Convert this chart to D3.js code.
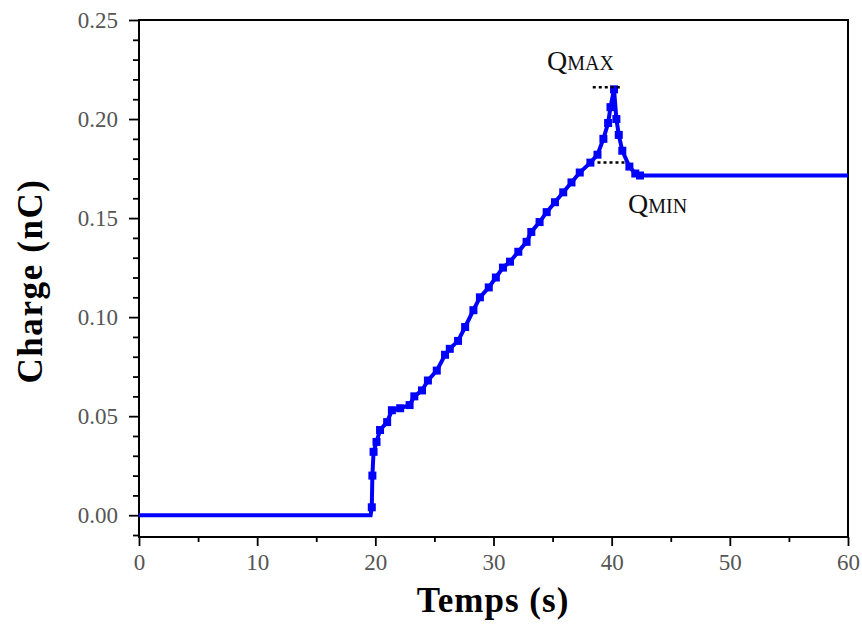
<!DOCTYPE html>
<html>
<head>
<meta charset="utf-8">
<script src="https://cdn.jsdelivr.net/npm/d3@7"></script>
<style>
  body { margin:0; background:#fff; }
  text { font-family: "Liberation Serif", "DejaVu Serif", serif; }
</style>
</head>
<body>
<div id="chart"></div>
<script>
// data
var times   = [0, 19.6, 19.7, 19.75, 19.85, 20.1, 20.4, 21.0, 21.4, 22.1, 22.9, 23.3, 23.95, 24.45, 25.2, 25.9, 26.3, 27.0, 27.6, 28.3, 28.85, 29.6, 30.2, 30.8, 31.4, 32.1, 32.8, 33.2, 33.9, 34.5, 35.2, 35.9, 36.6, 37.3, 38.2, 38.8, 39.3, 39.7, 39.9, 40.2, 40.4, 40.6, 40.9, 41.5, 42.0, 42.4, 60];
var charges = [0, 0, 0.004, 0.020, 0.032, 0.037, 0.043, 0.047, 0.053, 0.054, 0.0556, 0.060, 0.063, 0.068, 0.073, 0.081, 0.084, 0.088, 0.095, 0.1035, 0.110, 0.115, 0.120, 0.125, 0.128, 0.133, 0.138, 0.143, 0.148, 0.153, 0.158, 0.163, 0.168, 0.173, 0.178, 0.182, 0.190, 0.198, 0.206, 0.215, 0.200, 0.192, 0.184, 0.176, 0.1725, 0.1715, 0.1715];
var xTicks = [0, 10, 20, 30, 40, 50, 60];
var yTicks = [0.00, 0.05, 0.10, 0.15, 0.20, 0.25];
var qMax = 0.216, qMin = 0.178;
var qMaxSpan = [38.4, 40.8], qMinSpan = [38.8, 41.1];

var data = times.map(function(t, i) { return { t: t, q: charges[i] }; });

var margin = { left:139, right:14, top:20, bottom:89 };
var W = 862, H = 626;
var w = W - margin.left - margin.right;
var h = H - margin.top - margin.bottom;

var svg = d3.select("#chart").append("svg")
    .attr("width", W)
    .attr("height", H);

var g = svg.append("g")
    .attr("transform", "translate(" + margin.left + "," + margin.top + ")");

var xScale = d3.scaleLinear().domain([0, 60]).range([0, w]);
var yScale = d3.scaleLinear().domain([-0.011, 0.25]).range([h, 0]);

// minor ticks
var xAxisMinor = d3.axisBottom(xScale).tickValues(d3.range(5, 60, 10)).tickSize(5).tickFormat("");
var yAxisMinor = d3.axisLeft(yScale).tickValues(d3.range(-0.01, 0.25, 0.01).filter(function(v) {
    return Math.abs(Math.round(v * 100) % 5) != 0; })).tickSize(6).tickFormat("");

g.append("g").attr("class", "x minor").attr("transform", "translate(0," + h + ")").call(xAxisMinor);
g.append("g").attr("class", "y minor").call(yAxisMinor);

var xAxis = d3.axisBottom(xScale).tickValues(xTicks).tickSize(9).tickPadding(8).tickFormat(d3.format("d"));
var yAxis = d3.axisLeft(yScale).tickValues(yTicks).tickSize(10).tickPadding(11).tickFormat(d3.format(".2f"));

g.append("g").attr("class", "x axis").attr("transform", "translate(0," + h + ")").call(xAxis);
g.append("g").attr("class", "y axis").call(yAxis);

g.selectAll(".axis path, .minor path").remove();
g.selectAll(".tick line").attr("stroke", "#000").attr("stroke-width", 1.8);
g.selectAll(".axis text")
    .attr("font-size", 23)
    .attr("font-family", "Liberation Serif")
    .attr("fill", "#555");

// frame
g.append("rect")
    .attr("x", 0).attr("y", 0)
    .attr("width", w).attr("height", h)
    .attr("fill", "none")
    .attr("stroke", "#000")
    .attr("stroke-width", 2);

// curve
var line = d3.line()
    .x(function(d) { return xScale(d.t); })
    .y(function(d) { return yScale(d.q); });

g.append("path")
    .datum(data)
    .attr("d", line)
    .attr("fill", "none")
    .attr("stroke", "#0000ff")
    .attr("stroke-width", 4);

// square markers
g.selectAll(".pt")
    .data(data.slice(2, data.length - 1))
    .enter().append("rect")
    .attr("class", "pt")
    .attr("x", function(d) { return xScale(d.t) - 4; })
    .attr("y", function(d) { return yScale(d.q) - 4; })
    .attr("width", 8)
    .attr("height", 8)
    .attr("fill", "#0000ff");

// dotted markers
[[qMax, qMaxSpan], [qMin, qMinSpan]].forEach(function(d) {
    g.append("line")
        .attr("x1", xScale(d[1][0])).attr("x2", xScale(d[1][1]))
        .attr("y1", yScale(d[0])).attr("y2", yScale(d[0]))
        .attr("stroke", "#000")
        .attr("stroke-width", 2.5)
        .attr("stroke-dasharray", "3,3");
});

function qLabel(x, y, sub) {
    var t = svg.append("text")
        .attr("x", x).attr("y", y)
        .attr("fill", "#111");
    t.append("tspan").attr("font-size", 28).text("Q");
    t.append("tspan").attr("font-size", 20).text(sub);
}
qLabel(547, 70, "MAX");
qLabel(628, 213, "MIN");

// axis titles
svg.append("text")
    .attr("x", 493)
    .attr("y", 612)
    .attr("text-anchor", "middle")
    .attr("font-size", 35)
    .attr("font-weight", "bold")
    .attr("letter-spacing", 1)
    .text("Temps (s)");

svg.append("text")
    .attr("transform", "translate(42,281) rotate(-90)")
    .attr("text-anchor", "middle")
    .attr("font-size", 35)
    .attr("font-weight", "bold")
    .attr("letter-spacing", 1.6)
    .text("Charge (nC)");
</script>
</body>
</html>
